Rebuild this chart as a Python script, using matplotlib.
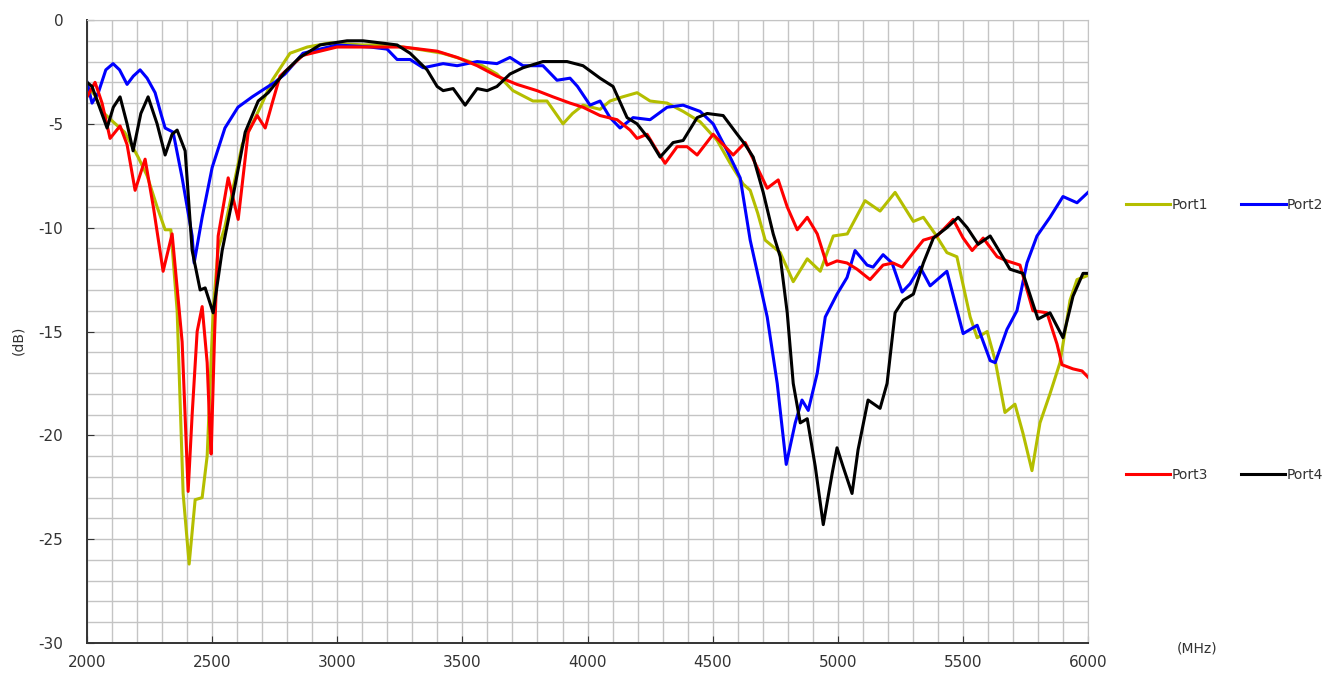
import numpy as np
import matplotlib.pyplot as plt
from matplotlib.ticker import MultipleLocator

plt.rcParams['axes.unicode_minus'] = False

port1_f = [2000, 2030, 2060, 2104, 2150, 2204, 2240, 2280, 2312, 2335, 2360, 2384, 2408, 2432, 2460,
           2480, 2504, 2524, 2550, 2580, 2620, 2660, 2700, 2740, 2811, 2880, 2971, 3100, 3200, 3319,
           3420, 3503, 3580, 3638, 3702, 3782, 3838, 3902, 3940, 3982, 4050, 4090, 4140, 4198, 4250,
           4318, 4382, 4450, 4518, 4570, 4622, 4650, 4680, 4710, 4770, 4822, 4878, 4930, 4982, 5038,
           5109, 5169, 5229, 5302, 5342, 5389, 5436, 5476, 5529, 5557, 5597, 5629, 5668, 5708, 5740,
           5776, 5808, 5848, 5888, 5928, 5956, 6000]
port1_db = [-3.2, -3.6, -4.4, -4.9, -5.4, -6.6, -7.5, -9.0, -10.1, -10.1, -14.0, -22.8, -26.2, -23.1, -23.0,
            -21.0, -14.0, -11.0, -10.0, -8.3, -6.0, -5.0, -4.0, -2.9, -1.6, -1.3, -1.1, -1.2, -1.2, -1.4,
            -1.6, -1.9, -2.2, -2.6, -3.4, -3.9, -3.9, -5.0, -4.5, -4.1, -4.3, -3.9, -3.7, -3.5, -3.9,
            -4.0, -4.4, -4.9, -5.8, -6.9, -7.9, -8.2, -9.3, -10.6, -11.2, -12.6, -11.5, -12.1, -10.4, -10.3,
            -8.7, -9.2, -8.3, -9.7, -9.5, -10.3, -11.2, -11.4, -14.3, -15.3, -15.0, -16.4, -18.9, -18.5, -19.9,
            -21.7, -19.4, -18.0, -16.5, -13.5, -12.5, -12.3]

port2_f = [2000, 2020, 2045, 2075, 2104, 2130, 2160, 2185, 2212, 2240, 2272, 2295, 2312, 2344, 2380,
           2420, 2428, 2460, 2500, 2551, 2603, 2660, 2711, 2750, 2791, 2863, 2999, 3131, 3199, 3239,
           3291, 3343, 3383, 3423, 3479, 3559, 3638, 3690, 3742, 3822, 3878, 3930, 3960, 4010, 4050,
           4090, 4130, 4182, 4250, 4318, 4382, 4450, 4502, 4558, 4610, 4650, 4718, 4758, 4794, 4830,
           4857, 4882, 4918, 4950, 4997, 5037, 5069, 5117, 5141, 5181, 5217, 5257, 5289, 5329, 5369,
           5436, 5501, 5557, 5609, 5629, 5676, 5716, 5756, 5796, 5848, 5900, 5956, 6000]
port2_db = [-3.0, -4.0, -3.5, -2.4, -2.1, -2.4, -3.1, -2.7, -2.4, -2.8, -3.5, -4.5, -5.2, -5.4, -7.6,
            -10.4, -11.7, -9.5, -7.1, -5.2, -4.2, -3.7, -3.3, -3.0, -2.6, -1.6, -1.2, -1.3, -1.4, -1.9,
            -1.9, -2.3, -2.2, -2.1, -2.2, -2.0, -2.1, -1.8, -2.2, -2.2, -2.9, -2.8, -3.2, -4.1, -3.9,
            -4.7, -5.2, -4.7, -4.8, -4.2, -4.1, -4.4, -5.0, -6.3, -7.6, -10.6, -14.3, -17.5, -21.4, -19.4,
            -18.3, -18.8, -17.0, -14.3, -13.2, -12.4, -11.1, -11.8, -11.9, -11.3, -11.7, -13.1, -12.7, -11.9, -12.8,
            -12.1, -15.1, -14.7, -16.4, -16.5, -14.9, -14.0, -11.7, -10.4, -9.5, -8.5, -8.8, -8.3]

port3_f = [2000, 2032, 2060, 2092, 2132, 2160, 2192, 2232, 2265, 2304, 2340, 2380, 2404, 2420, 2440,
           2460, 2480, 2490, 2496, 2510, 2524, 2564, 2604, 2644, 2680, 2712, 2740, 2771, 2863, 2999,
           3131, 3263, 3399, 3479, 3559, 3638, 3718, 3798, 3862, 3930, 3982, 4050, 4118, 4170, 4198,
           4238, 4278, 4310, 4358, 4398, 4438, 4502, 4582, 4630, 4678, 4718, 4762, 4798, 4838, 4878,
           4918, 4957, 4997, 5037, 5077, 5129, 5181, 5221, 5257, 5302, 5342, 5397, 5461, 5501, 5537,
           5581, 5637, 5676, 5728, 5780, 5836, 5876, 5896, 5940, 5976, 6000]
port3_db = [-3.7, -3.0, -4.0, -5.7, -5.1, -6.0, -8.2, -6.7, -9.0, -12.1, -10.3, -15.5, -22.7, -19.0, -15.0,
            -13.8, -16.5, -19.5, -20.9, -15.0, -10.4, -7.6, -9.6, -5.4, -4.6, -5.2, -4.0, -2.7, -1.7, -1.3,
            -1.3, -1.3, -1.5, -1.8, -2.2, -2.7, -3.1, -3.4, -3.7, -4.0, -4.2, -4.6, -4.8, -5.3, -5.7,
            -5.5, -6.3, -6.9, -6.1, -6.1, -6.5, -5.5, -6.5, -5.9, -7.1, -8.1, -7.7, -9.0, -10.1, -9.5,
            -10.3, -11.8, -11.6, -11.7, -12.0, -12.5, -11.8, -11.7, -11.9, -11.2, -10.6, -10.4, -9.6, -10.5, -11.1,
            -10.5, -11.4, -11.6, -11.8, -14.0, -14.1, -15.6, -16.6, -16.8, -16.9, -17.2]

port4_f = [2000, 2020, 2050, 2080, 2105, 2132, 2160, 2184, 2215, 2244, 2280, 2312, 2340, 2360, 2392,
           2420, 2452, 2472, 2504, 2540, 2580, 2632, 2684, 2724, 2791, 2850, 2931, 3039, 3103, 3171,
           3239, 3291, 3359, 3399, 3423, 3463, 3511, 3559, 3599, 3638, 3690, 3742, 3822, 3918, 3982,
           4050, 4102, 4158, 4198, 4250, 4290, 4342, 4382, 4438, 4478, 4542, 4598, 4630, 4662, 4702,
           4742, 4770, 4798, 4822, 4850, 4878, 4910, 4942, 4978, 4997, 5021, 5057, 5081, 5121, 5169,
           5197, 5229, 5261, 5302, 5342, 5382, 5436, 5481, 5517, 5561, 5609, 5649, 5688, 5740, 5800,
           5848, 5900, 5940, 5980, 6000]
port4_db = [-3.0, -3.2, -4.2, -5.2, -4.2, -3.7, -5.0, -6.3, -4.5, -3.7, -5.0, -6.5, -5.5, -5.3, -6.3,
            -11.1, -13.0, -12.9, -14.1, -11.1, -8.7, -5.4, -3.9, -3.5, -2.5, -1.8, -1.2, -1.0, -1.0, -1.1,
            -1.2, -1.6, -2.4, -3.2, -3.4, -3.3, -4.1, -3.3, -3.4, -3.2, -2.6, -2.3, -2.0, -2.0, -2.2,
            -2.8, -3.2, -4.7, -5.0, -5.8, -6.6, -5.9, -5.8, -4.7, -4.5, -4.6, -5.5, -6.0, -6.6, -8.3,
            -10.3, -11.4, -14.1, -17.5, -19.4, -19.2, -21.5, -24.3, -21.8, -20.6, -21.5, -22.8, -20.7, -18.3, -18.7,
            -17.5, -14.1, -13.5, -13.2, -11.7, -10.5, -10.0, -9.5, -10.0, -10.8, -10.4, -11.2, -12.0, -12.2, -14.4,
            -14.1, -15.3, -13.3, -12.2, -12.2]

labels = ['Port1', 'Port2', 'Port3', 'Port4']
colors = ['#b4be00', '#0000ff', '#ff0000', '#000000']

fig = plt.figure(figsize=(13.35, 6.86), dpi=100)
ax = fig.add_axes([0.0652, 0.0627, 0.7498, 0.9081])

lines = []
for f, db, c, lab in zip([port1_f, port2_f, port3_f, port4_f],
                         [port1_db, port2_db, port3_db, port4_db], colors, labels):
    ln, = ax.plot(f, db, color=c, lw=2.2, label=lab, solid_joinstyle='round')
    lines.append(ln)

ax.set_xlim(2000, 6000)
ax.set_ylim(-30, 0)
ax.xaxis.set_major_locator(MultipleLocator(500))
ax.yaxis.set_major_locator(MultipleLocator(5))
ax.xaxis.set_minor_locator(MultipleLocator(100))
ax.yaxis.set_minor_locator(MultipleLocator(1))
ax.grid(which='both', color='#c4c4c4', lw=1)
ax.set_axisbelow(True)

for s in ['top', 'right']:
    ax.spines[s].set_color('#c4c4c4')
for s in ['left', 'bottom']:
    ax.spines[s].set_color('#333333')
    ax.spines[s].set_linewidth(1.4)

ax.tick_params(which='major', direction='in', length=5, color='#333333', labelsize=11, labelcolor='#333333')
ax.tick_params(which='minor', length=0)
ax.tick_params(axis='y', pad=17)
ax.tick_params(axis='x', pad=9)

fig.text(18 / 1335, 1 - 340 / 686, '(dB)', rotation=90, ha='center', va='center', fontsize=10, color='#333333')
fig.text(1197 / 1335, 1 - 648 / 686, '(MHz)', ha='center', va='center', fontsize=10, color='#333333')

leg_kw = dict(ncol=2, frameon=False, fontsize=10, handlelength=3.2, handletextpad=0.1,
              columnspacing=2.4, labelcolor='#333333', loc='center left')
leg1 = fig.legend(lines[:2], labels[:2], bbox_to_anchor=(1113 / 1335, 1 - 205 / 686), **leg_kw)
leg2 = fig.legend(lines[2:], labels[2:], bbox_to_anchor=(1113 / 1335, 1 - 475 / 686), **leg_kw)

fig.savefig('out.png', dpi=100, facecolor='white')
